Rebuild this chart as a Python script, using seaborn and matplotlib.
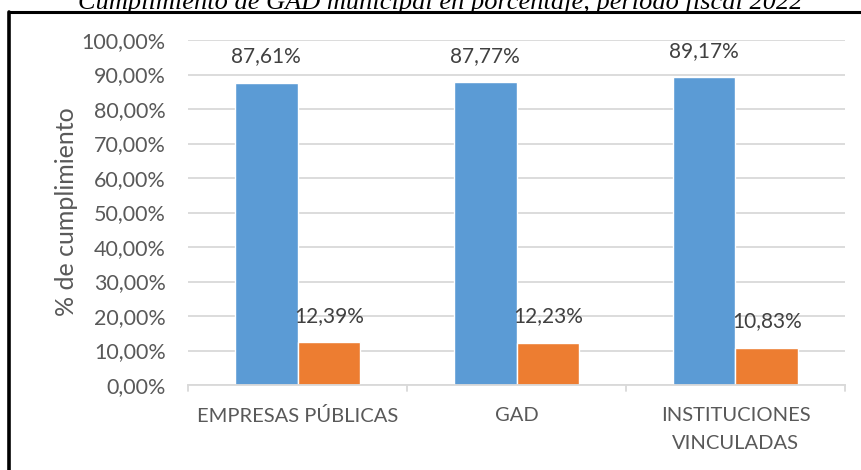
import pandas as pd
import numpy as np
import matplotlib.pyplot as plt
import seaborn as sns
from matplotlib.lines import Line2D

categorias = ['EMPRESAS PÚBLICAS', 'GAD', 'INSTITUCIONES\nVINCULADAS']
cumple = [87.61, 87.77, 89.17]
no_cumple = [12.39, 12.23, 10.83]
series = ['Cumple', 'No cumple']
colores = ['#5B9BD5', '#ED7D31']

df = pd.DataFrame({
    'categoria': categorias * 2,
    'valor': cumple + no_cumple,
    'serie': [series[0]] * 3 + [series[1]] * 3,
})

sns.set_style('white')
plt.rcParams['font.family'] = ['Lato', 'DejaVu Sans']
gris = '#595959'

W, H = 861, 470
fig = plt.figure(figsize=(W / 100, H / 100), dpi=100)
ax = fig.add_axes([188 / W, 1 - 385 / H, (845 - 188) / W, (385 - 40) / H])

sns.barplot(data=df, x='categoria', y='valor', hue='serie', order=categorias,
            hue_order=series, palette=colores, width=0.57, saturation=1,
            legend=False, ax=ax)

ax.set_ylim(0, 100)
ax.set_xlim(-0.5, 2.5)
ax.set_yticks(np.arange(0, 101, 10))
ax.set_yticklabels([f'{v:.2f}%'.replace('.', ',') for v in np.arange(0, 101, 10)],
                   fontsize=15.5, color=gris)
ax.yaxis.grid(True, color='#D9D9D9', linewidth=1.3)
ax.set_axisbelow(True)
ax.tick_params(axis='y', length=0, pad=16)
ax.tick_params(axis='x', length=0, pad=16, labelsize=14.5, labelcolor=gris)
for lbl in ax.get_xticklabels():
    lbl.set_linespacing(1.75)
for s in ['top', 'right', 'left']:
    ax.spines[s].set_visible(False)
ax.spines['bottom'].set_color('#D9D9D9')
ax.spines['bottom'].set_linewidth(1.3)
for xt in [-0.5, 0.5, 1.5, 2.5]:
    ax.plot([xt, xt], [0, -1.8], color='#D9D9D9', lw=1.3, clip_on=False)

ax.set_xlabel('')
ax.set_ylabel('% de cumplimiento', fontsize=18, color=gris)
ax.yaxis.set_label_coords((78 - 188) / (845 - 188), (385 - 212) / (385 - 40))

for cont in ax.containers:
    for bar in cont:
        h = bar.get_height()
        ax.annotate(f'{h:.2f}%'.replace('.', ','),
                    (bar.get_x() + bar.get_width() / 2, h),
                    xytext=(0, 19), textcoords='offset points',
                    ha='center', va='center', fontsize=15, color='#404040',
                    annotation_clip=False)

fig.text(440 / W, 1 - 8.5 / H,
         'Cumplimiento de GAD municipal en porcentaje, período fiscal 2022',
         ha='center', va='baseline', fontsize=19, style='italic',
         family='Liberation Serif', color='black')

fig.add_artist(Line2D([9 / W, 1.0], [1 - 12 / H, 1 - 12 / H], color='black', lw=2.2,
                      transform=fig.transFigure))
fig.add_artist(Line2D([9 / W, 9 / W], [1 - 12 / H, 0], color='black', lw=2.6,
                      transform=fig.transFigure))

fig.savefig('out.png', dpi=100)
